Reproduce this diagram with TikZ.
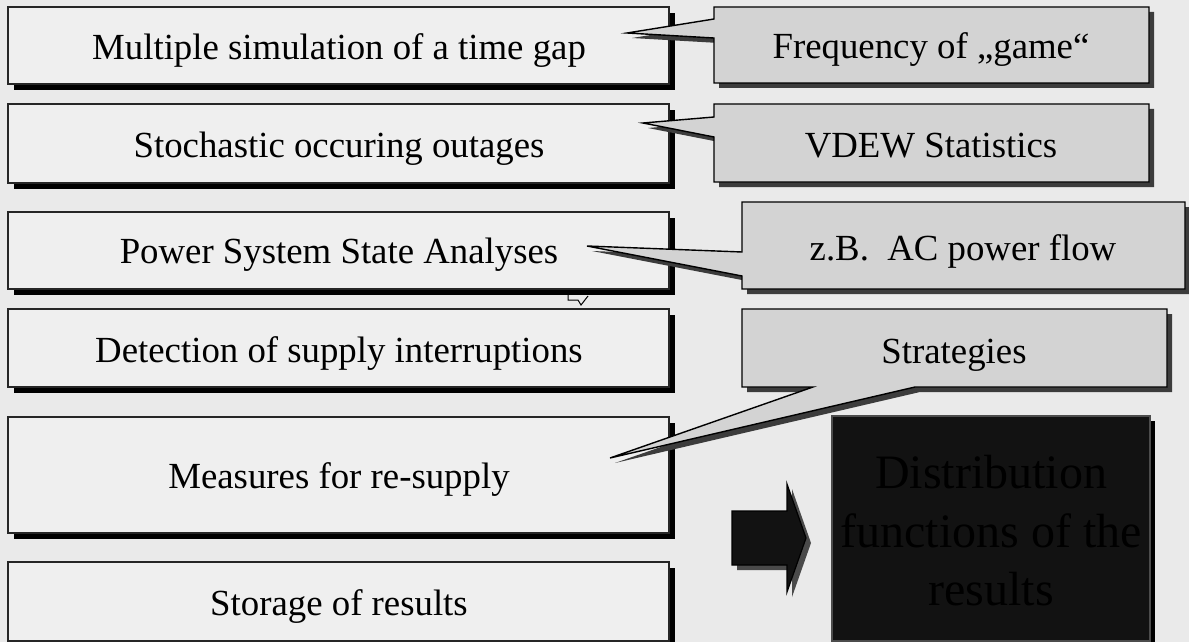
\documentclass[tikz,border=0pt]{standalone}
\usepackage{fontspec}
\setmainfont{Liberation Serif}
\definecolor{bg}{HTML}{EAEAEA}
\definecolor{panel}{HTML}{EFEFEF}
\definecolor{bubble}{HTML}{D3D3D3}
\definecolor{bubbleshadow}{HTML}{3C3C3C}
\definecolor{darkpanel}{HTML}{121212}
\definecolor{arrowshadow}{HTML}{4A4A4A}

% step box with a hard black drop shadow
\newcommand\stepbox[2]{%
  \fill[black, shift={(6,6)}] (8,#1) rectangle (669,#2);
  \draw[panelbox] (8,#1) rectangle (669,#2);}
% speech bubble: outline path given as argument
\newcommand\bubblepath[1]{%
  \fill[bubbleshadow, shift={(5,5)}] #1;
  \draw[bubblebox] #1;}

\begin{document}
\begin{tikzpicture}[x=0.5pt,y=-0.5pt,
  panelbox/.style={fill=panel, draw=black!85, line width=0.6pt},
  bubblebox/.style={fill=bubble, draw=black, line width=0.7pt, line join=miter},
  lbl/.style={font=\fontsize{18.4}{22}\selectfont, anchor=base, inner sep=0pt, text=black},
  biglbl/.style={font=\fontsize{24}{29}\selectfont, anchor=base, inner sep=0pt, text=black}]

\fill[bg] (0,0) rectangle (1189,642);
\useasboundingbox (0,0) rectangle (1189,642);

% small stray bubble outline partly hidden behind the third box
\draw[black, line width=0.5pt] (568,292) -- (568,300) -- (578,300) -- (581,305) -- (588,296);

% left column of process steps
\stepbox{7}{84}
\stepbox{104}{183}
\stepbox{212}{289}
\stepbox{309}{387}
\stepbox{417}{533}
\stepbox{562}{641}

\node[lbl] (t1) at (339,60)  {Multiple simulation of a time gap};
\node[lbl] (t2) at (339,157) {Stochastic occuring outages};
\node[lbl] (t3) at (339,263) {Power System State Analyses};
\node[lbl] (t4) at (339,362) {Detection of supply interruptions};
\node[lbl] (t5) at (339,488) {Measures for re-supply};
\node[lbl] (t6) at (339,615) {Storage of results};

% speech bubbles with their pointers
\bubblepath{(714,7) -- (1149,7) -- (1149,83) -- (714,83) -- (714,38) -- (627,33) -- (714,19) -- cycle}
\bubblepath{(714,104) -- (1149,104) -- (1149,182) -- (714,182) -- (714,137) -- (643,123) -- (714,117) -- cycle}
\bubblepath{(742,202) -- (1185,202) -- (1185,289) -- (742,289) -- (742,276) -- (587,246) -- (742,252) -- cycle}
\bubblepath{(742,309) -- (1167,309) -- (1167,387) -- (915,387) -- (610,458) -- (813,387) -- (742,387) -- cycle}

\node[lbl] (c1) at (931,59)  {Frequency of „game“};
\node[lbl] (c2) at (931,157) {VDEW Statistics};
\node[lbl] (c3) at (963,260) {z.B.~~AC power flow};
\node[lbl] (c4) at (954,363) {Strategies};

% block arrow
\fill[arrowshadow, shift={(5,5)}] (732,511) -- (787,511) -- (787,484) -- (806,538) -- (787,592) -- (787,565) -- (732,565) -- cycle;
\draw[fill=darkpanel, draw=black, line width=0.6pt] (732,511) -- (787,511) -- (787,484) -- (806,538) -- (787,592) -- (787,565) -- (732,565) -- cycle;

% result panel
\fill[black, shift={(5,5)}] (832,416) rectangle (1150,641);
\draw[fill=darkpanel, draw=black!70, line width=0.6pt] (832,416) rectangle (1150,641);
\node[biglbl] (d1) at (991,488) {Distribution};
\node[biglbl] (d2) at (991,547) {functions of the};
\node[biglbl] (d3) at (991,605) {results};

\end{tikzpicture}
\end{document}
